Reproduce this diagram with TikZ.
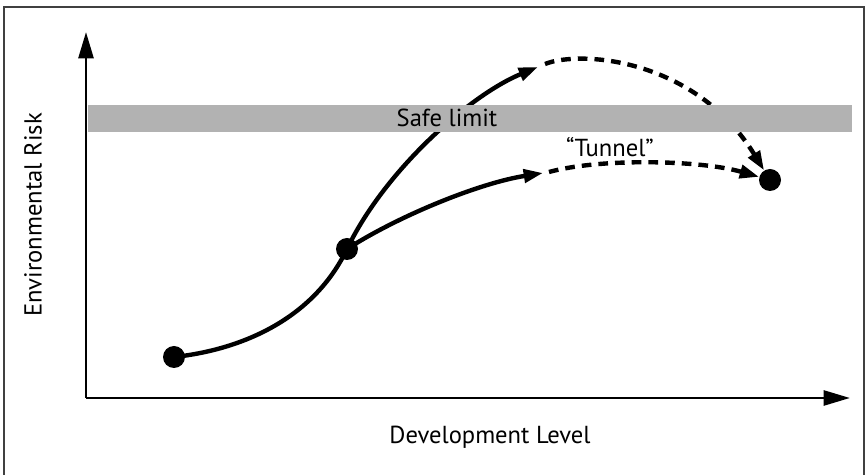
\documentclass[tikz,border=0pt]{standalone}
\usepackage{fontspec}
\setmainfont{PT Sans}
\usetikzlibrary{arrows.meta}
\tikzset{
  dot/.style={circle, fill=black, inner sep=0pt, minimum size=0.44cm},
  curve/.style={line width=2.5pt, -{Triangle[length=11pt,width=7.5pt]}},
  dashcurve/.style={curve, dash pattern=on 5.5pt off 4pt},
  axis/.style={line width=1.6pt, -{Triangle[length=15pt,width=8.5pt]}},
  label/.style={font=\fontsize{14}{16}\selectfont, inner sep=0pt}
}
\begin{document}
\begin{tikzpicture}[x=0.02cm, y=-0.02cm]
\useasboundingbox (0,0) rectangle (866,475);
%% frame
\draw[line width=0.9pt, black!75] (4,480) -- (4,7) -- (864,7) -- (864,480);
%% axes
\coordinate (origin) at (86,398);
\coordinate (ytop) at (86,32);
\coordinate (xend) at (850,398);
\draw[axis] (origin) -- (ytop);
\draw[axis] (origin) -- (xend);
\node[label, rotate=90] (risk) at (33,215) {Environmental Risk};
\node[label] (level) at (490,437) {Development Level};
%% points
\node[dot] (start) at (174,357) {};
\node[dot] (mid) at (347,249) {};
\node[dot] (finish) at (770,180) {};
\coordinate (uptip) at (538,67);
\coordinate (updash) at (545,64);
\coordinate (lowtip) at (543,173);
\coordinate (lowdash) at (549,172);
%% paths
\draw[line width=2.5pt] (start.center) .. controls (240,350) and (313,320) .. (mid.center);
\draw[curve] (mid.center) .. controls (385,170) and (470,95) .. (uptip);
\draw[curve] (mid.center) .. controls (400,215) and (480,183) .. (lowtip);
\draw[dashcurve] (updash) .. controls (580,50) and (695,58) .. (finish);
\draw[dashcurve] (lowdash) .. controls (600,158) and (700,160) .. (finish);
%% safe limit
\fill[black!30] (88,105) rectangle (852,132);
\node[label] (safe) at (447,118) {Safe limit};
\node[label] (tunnel) at (610,147) {“Tunnel”};
\end{tikzpicture}
\end{document}
